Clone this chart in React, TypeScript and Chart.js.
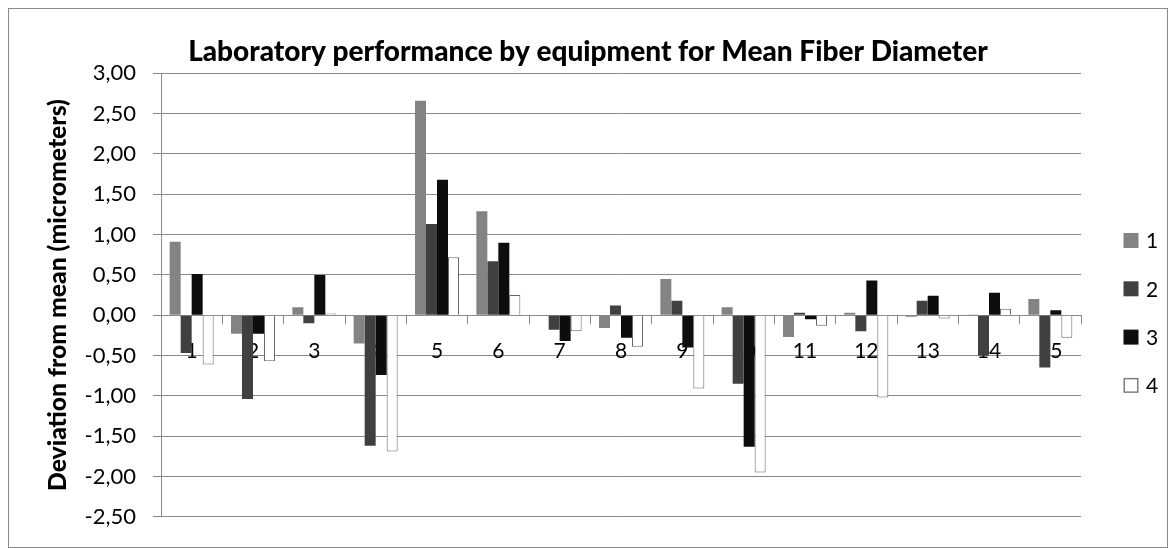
import React, { useEffect, useRef } from 'react';
import { Chart, registerables } from 'chart.js';

Chart.register(...registerables);

// ---- data ----
const categories = ['1', '2', '3', '4', '5', '6', '7', '8', '9', '10', '11', '12', '13', '14', '15'];
const seriesNames = ['1', '2', '3', '4'];
const series1 = [0.91, -0.23, 0.10, -0.35, 2.66, 1.29, 0.0, -0.16, 0.45, 0.10, -0.27, 0.03, -0.02, 0.01, 0.20];
const series2 = [-0.47, -1.04, -0.10, -1.62, 1.13, 0.67, -0.18, 0.12, 0.18, -0.85, 0.03, -0.20, 0.18, -0.50, -0.65];
const series3 = [0.51, -0.23, 0.50, -0.74, 1.68, 0.90, -0.32, -0.28, -0.40, -1.63, -0.05, 0.43, 0.24, 0.28, 0.06];
const series4 = [-0.61, -0.57, 0.02, -1.69, 0.72, 0.25, -0.20, -0.39, -0.91, -1.95, -0.13, -1.02, -0.04, 0.08, -0.28];
const yMin = -2.5;
const yMax = 3.0;
const yStep = 0.5;

const titleText = 'Laboratory performance by equipment for Mean Fiber Diameter';
const yTitleText = 'Deviation from mean (micrometers)';

// ---- styles ----
const FONT = 'Lato, "Open Sans", "DejaVu Sans", sans-serif';
const GRID = '#8a8a8a';
const fills = ['#838383', '#404040', '#0d0d0d', '#ffffff'];
const borders = ['#838383', '#404040', '#0d0d0d', '#666666'];
const borderWidths = [0, 0, 0, 1];

function fitSize(text: string, weight: string, target: number): number {
  const c = document.createElement('canvas').getContext('2d');
  if (!c) return 24;
  c.font = `${weight} 100px ${FONT}`;
  const w = c.measureText(text).width;
  return w > 0 ? (100 * target) / w : 24;
}

export default function App() {
  const ref = useRef<HTMLCanvasElement | null>(null);

  useEffect(() => {
    if (!ref.current) return;
    const allSeries = [series1, series2, series3, series4];

    const titleSize = fitSize(titleText, '900', 800);
    const titleLH = titleSize * 1.2;
    const titleTop = 42.9 - titleLH / 2;
    const titleBottom = 64.3 - titleLH - titleTop;

    const yTitleSize = fitSize(yTitleText, '900', 392);
    const yTitleLH = yTitleSize * 1.2;

    // Center the chart title over the whole chart (like the original), not only left of the legend gap
    const titleSpan = {
      id: 'titleSpan',
      afterLayout(chart: any) {
        const t = chart.titleBlock;
        if (t) {
          t.left = 0;
          t.right = chart.width;
          t.width = chart.width;
        }
      },
    };

    const sideLegend = {
      id: 'sideLegend',
      afterDraw(chart: any) {
        const ctx = chart.ctx as CanvasRenderingContext2D;
        ctx.save();
        chart.data.datasets.forEach((ds: any, i: number) => {
          const cy = 231.5 + i * 48.3;
          const bx = 1114.5;
          const size = 15;
          ctx.fillStyle = ds.backgroundColor;
          ctx.fillRect(bx, cy - size / 2, size, size);
          if (ds.borderWidth) {
            ctx.strokeStyle = '#7f7f7f';
            ctx.lineWidth = 1.5;
            ctx.strokeRect(bx + 0.75, cy - size / 2 + 0.75, size - 1.5, size - 1.5);
          }
          ctx.fillStyle = '#000';
          ctx.font = `21px ${FONT}`;
          ctx.textBaseline = 'middle';
          ctx.textAlign = 'left';
          ctx.fillText(ds.label, 1137, cy + 1);
        });
        ctx.restore();
      },
    };

    const chart = new Chart(ref.current, {
      type: 'bar',
      data: {
        labels: categories,
        datasets: allSeries.map((d, i) => ({
          label: seriesNames[i],
          data: d,
          backgroundColor: fills[i],
          borderColor: borders[i],
          borderWidth: borderWidths[i],
          categoryPercentage: 0.717,
          barPercentage: 1.0,
        })),
      },
      options: {
        responsive: false,
        animation: false,
        events: [],
        layout: { padding: { left: 0, right: 86, top: 0, bottom: 17 } },
        plugins: {
          legend: { display: false },
          tooltip: { enabled: false },
          title: {
            display: true,
            text: titleText,
            color: '#000',
            font: { family: FONT, size: titleSize, weight: '900', lineHeight: 1.2 },
            padding: { top: titleTop, bottom: titleBottom },
          },
        },
        scales: {
          x: {
            type: 'category',
            position: { y: 0 } as any,
            z: 1,
            offset: true,
            grid: {
              offset: true,
              drawOnChartArea: false,
              drawTicks: true,
              tickLength: 8,
              color: GRID,
              lineWidth: 1,
            },
            border: { display: true, color: GRID, width: 1 },
            ticks: {
              color: '#000',
              font: { family: FONT, size: 21 },
              padding: 15,
              maxRotation: 0,
              autoSkip: false,
            },
          },
          y: {
            min: yMin,
            max: yMax,
            afterFit(scale: any) {
              scale.width = 152;
            },
            grid: {
              color: GRID,
              lineWidth: 1,
              drawTicks: true,
              tickLength: 8,
            },
            border: { display: true, color: GRID, width: 1 },
            ticks: {
              stepSize: yStep,
              color: '#000',
              font: { family: FONT, size: 22 },
              padding: 17,
              callback: (v: any) => Number(v).toFixed(2).replace('.', ','),
            },
            title: {
              display: true,
              text: yTitleText,
              color: '#000',
              font: { family: FONT, size: yTitleSize, weight: '900', lineHeight: 1.2 },
              padding: { top: 49 - yTitleLH / 2, bottom: 0 },
            },
          },
        },
      },
      plugins: [titleSpan, sideLegend],
    });
    return () => chart.destroy();
  }, []);

  return (
    <div
      style={{
        width: 1160,
        height: 540,
        border: `1px solid ${GRID}`,
        boxSizing: 'border-box',
        background: '#fff',
      }}
    >
      <canvas ref={ref} width={1158} height={538} style={{ display: 'block' }} />
    </div>
  );
}
